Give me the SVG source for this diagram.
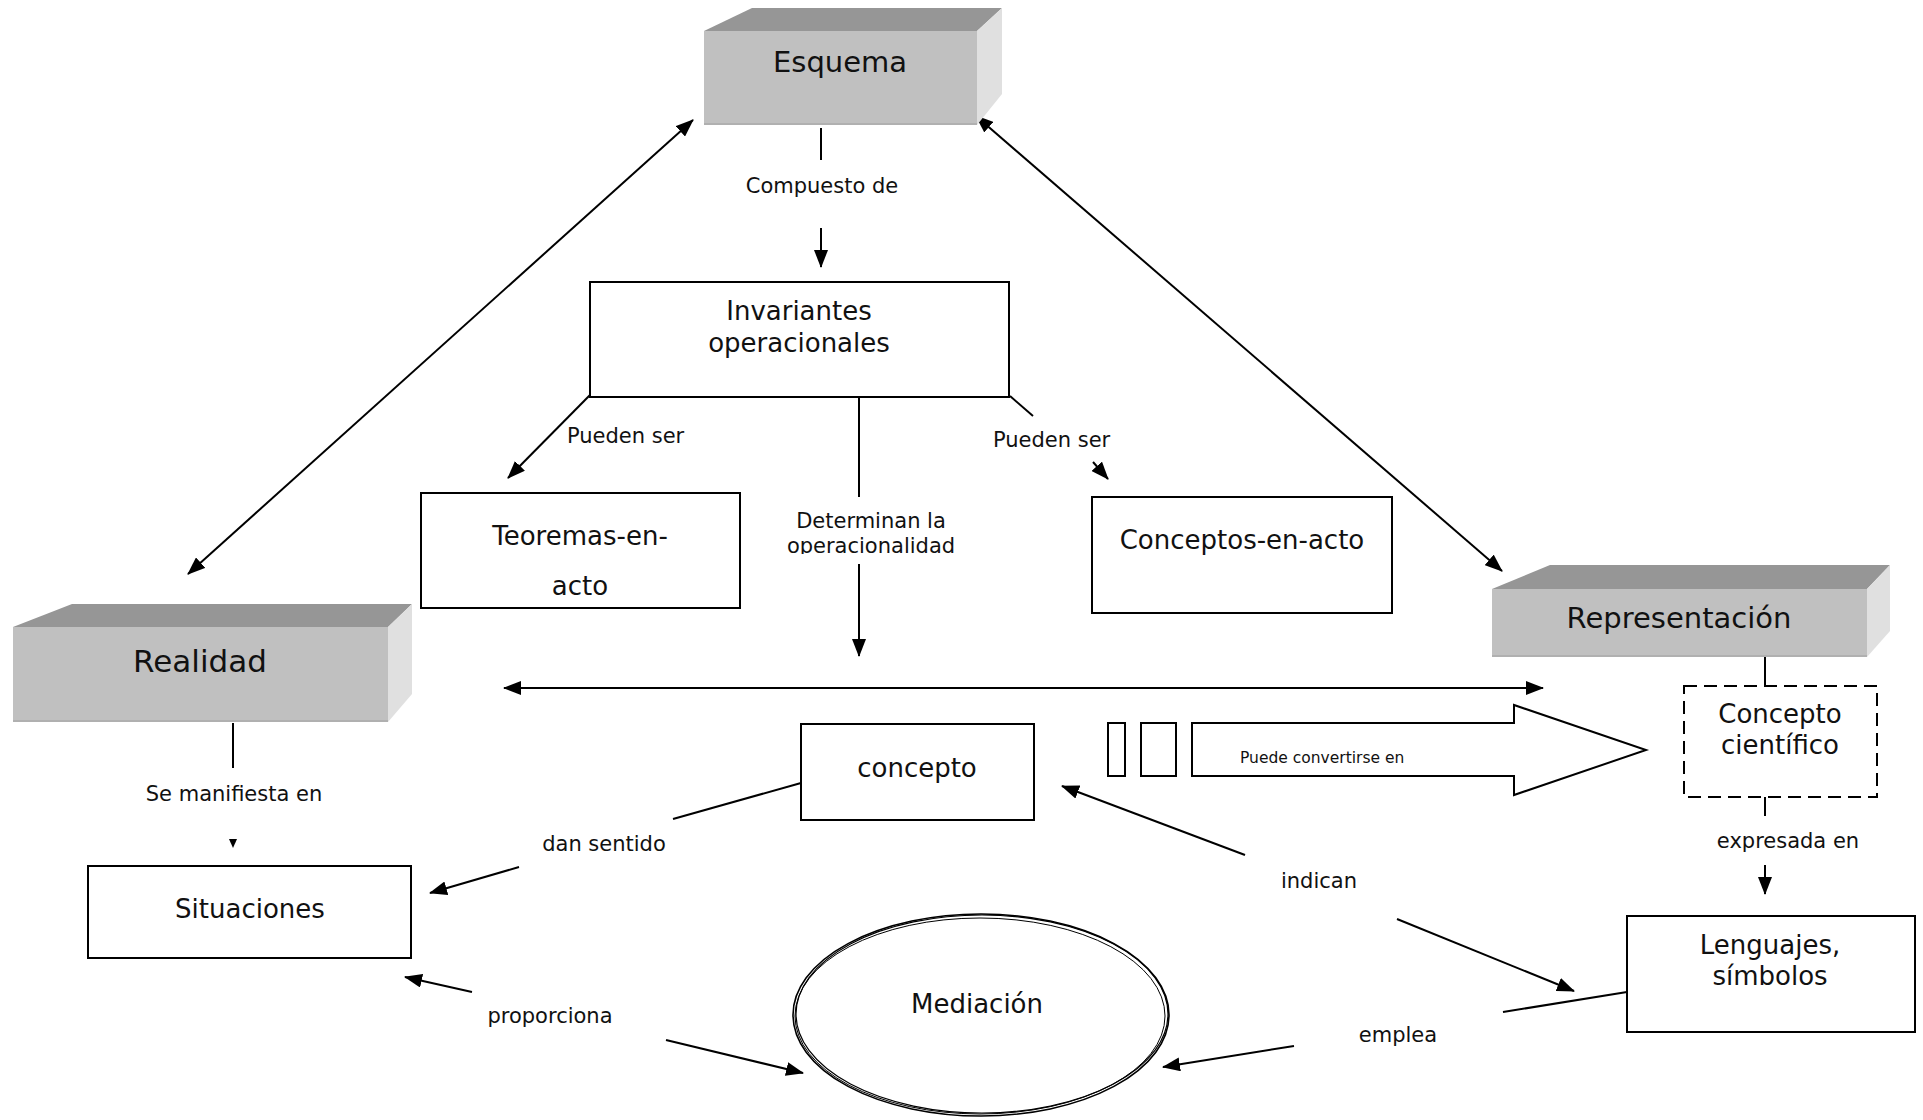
<svg xmlns="http://www.w3.org/2000/svg" width="1923" height="1120" viewBox="0 0 1923 1120">
<defs>
<style>
text{font-family:"DejaVu Sans",Verdana,sans-serif;fill:#111}
.big{font-size:26px}
.lbl{font-size:21px}
.box{fill:#fff;stroke:#000;stroke-width:2}
.front{fill:#c0c0c0}
.top{fill:#969696}
.side{fill:#e0e0e0}
.ln{stroke:#000;stroke-width:2;fill:none}
</style>
<marker id="ah" markerWidth="18" markerHeight="14" refX="17" refY="7" orient="auto-start-reverse" markerUnits="userSpaceOnUse">
<path d="M0,0 L18,7 L0,14 z" fill="#000"/>
</marker>
<clipPath id="detclip"><rect x="760" y="500" width="230" height="54"/></clipPath>
</defs>
<rect width="1923" height="1120" fill="#fff"/>

<g id="connectors">
<line class="ln" x1="821" y1="128" x2="821" y2="160"/>
<line class="ln" x1="821" y1="228" x2="821" y2="267" marker-end="url(#ah)"/>
<line class="ln" x1="693" y1="120" x2="188" y2="574" marker-start="url(#ah)" marker-end="url(#ah)"/>
<line class="ln" x1="976" y1="116" x2="1502" y2="571" marker-start="url(#ah)" marker-end="url(#ah)"/>
<line class="ln" x1="590" y1="395" x2="508" y2="478" marker-end="url(#ah)"/>
<line class="ln" x1="1010" y1="396" x2="1033" y2="416"/>
<line class="ln" x1="1093" y1="462" x2="1108" y2="479" marker-end="url(#ah)"/>
<line class="ln" x1="859" y1="397" x2="859" y2="497"/>
<line class="ln" x1="859" y1="564" x2="859" y2="656" marker-end="url(#ah)"/>
<line class="ln" x1="504" y1="688" x2="1543" y2="688" marker-start="url(#ah)" marker-end="url(#ah)"/>
<line class="ln" x1="233" y1="723" x2="233" y2="768"/>
<polygon points="229,839 237,839 233,848" fill="#000"/>
<line class="ln" x1="801" y1="783" x2="673" y2="819"/>
<line class="ln" x1="519" y1="867" x2="430" y2="893" marker-end="url(#ah)"/>
<line class="ln" x1="1245" y1="855" x2="1062" y2="786" marker-end="url(#ah)"/>
<line class="ln" x1="1397" y1="919" x2="1574" y2="991" marker-end="url(#ah)"/>
<line class="ln" x1="1765" y1="657" x2="1765" y2="686"/>
<line class="ln" x1="1765" y1="797" x2="1765" y2="816"/>
<line class="ln" x1="1765" y1="865" x2="1765" y2="894" marker-end="url(#ah)"/>
<line class="ln" x1="1627" y1="992" x2="1503" y2="1012"/>
<line class="ln" x1="1294" y1="1046" x2="1163" y2="1067" marker-end="url(#ah)"/>
<line class="ln" x1="472" y1="992" x2="405" y2="977" marker-end="url(#ah)"/>
<line class="ln" x1="666" y1="1040" x2="803" y2="1073" marker-end="url(#ah)"/>
<text class="lbl" x="822" y="193" text-anchor="middle">Compuesto de</text>
<text class="lbl" x="567" y="443">Pueden ser</text>
<text class="lbl" x="993" y="447">Pueden ser</text>
<g clip-path="url(#detclip)">
<text class="lbl" x="871" y="528" text-anchor="middle">Determinan la</text>
<text class="lbl" x="871" y="553" text-anchor="middle">operacionalidad</text>
</g>
<text class="lbl" x="234" y="801" text-anchor="middle">Se manifiesta en</text>
<text class="lbl" x="604" y="851" text-anchor="middle">dan sentido</text>
<text class="lbl" x="1319" y="888" text-anchor="middle">indican</text>
<text class="lbl" x="1788" y="848" text-anchor="middle">expresada en</text>
<text class="lbl" x="1398" y="1042" text-anchor="middle">emplea</text>
<text class="lbl" x="550" y="1023" text-anchor="middle">proporciona</text>
</g>

<g id="esquema">
<polygon class="top" points="704,31 752,8 1002,8 977,31"/>
<polygon class="side" points="977,31 1002,8 1002,94 977,125"/>
<rect class="front" x="704" y="31" width="273" height="94"/>
<line x1="704" y1="124" x2="977" y2="124" stroke="#b0b0b0" stroke-width="2"/>
<text x="840" y="72" text-anchor="middle" font-size="29">Esquema</text>
</g>

<g id="realidad">
<polygon class="top" points="13,627 72,604 412,604 388,627"/>
<polygon class="side" points="388,627 412,604 412,694 388,722"/>
<rect class="front" x="13" y="627" width="375" height="95"/>
<line x1="13" y1="721" x2="388" y2="721" stroke="#b0b0b0" stroke-width="2"/>
<text x="200" y="672" text-anchor="middle" font-size="31">Realidad</text>
</g>

<g id="representacion">
<polygon class="top" points="1492,589 1550,565 1890,565 1867,589"/>
<polygon class="side" points="1867,589 1890,565 1890,631 1867,657"/>
<rect class="front" x="1492" y="589" width="375" height="68"/>
<line x1="1492" y1="656" x2="1867" y2="656" stroke="#b0b0b0" stroke-width="2"/>
<text x="1679" y="628" text-anchor="middle" font-size="29">Representación</text>
</g>

<g id="invariantes">
<rect class="box" x="590" y="282" width="419" height="115"/>
<text class="big" x="799" y="320" text-anchor="middle">Invariantes</text>
<text class="big" x="799" y="352" text-anchor="middle">operacionales</text>
</g>

<g id="teoremas">
<rect class="box" x="421" y="493" width="319" height="115"/>
<text class="big" x="580" y="545" text-anchor="middle">Teoremas-en-</text>
<text class="big" x="580" y="595" text-anchor="middle">acto</text>
</g>

<g id="conceptos-en-acto">
<rect class="box" x="1092" y="497" width="300" height="116"/>
<text class="big" x="1242" y="549" text-anchor="middle">Conceptos-en-acto</text>
</g>

<g id="situaciones">
<rect class="box" x="88" y="866" width="323" height="92"/>
<text class="big" x="250" y="918" text-anchor="middle">Situaciones</text>
</g>

<g id="concepto">
<rect class="box" x="801" y="724" width="233" height="96"/>
<text class="big" x="917" y="777" text-anchor="middle">concepto</text>
</g>

<g id="puede-convertirse">
<rect class="box" x="1108" y="723" width="17" height="53"/>
<rect class="box" x="1141" y="723" width="35" height="53"/>
<polygon class="box" points="1192,723 1514,723 1514,705 1646,750 1514,795 1514,776 1192,776"/>
<text x="1240" y="763" font-size="15.5">Puede convertirse en</text>
</g>

<g id="concepto-cientifico">
<rect x="1684" y="686" width="193" height="111" fill="#fff" stroke="#000" stroke-width="2" stroke-dasharray="13,7"/>
<text class="big" x="1780" y="723" text-anchor="middle">Concepto</text>
<text class="big" x="1780" y="754" text-anchor="middle">científico</text>
</g>

<g id="lenguajes">
<rect class="box" x="1627" y="916" width="288" height="116"/>
<text class="big" x="1770" y="954" text-anchor="middle">Lenguajes,</text>
<text class="big" x="1770" y="985" text-anchor="middle">símbolos</text>
</g>

<g id="mediacion">
<ellipse cx="981" cy="1015" rx="188" ry="101" fill="#fff" stroke="#000" stroke-width="1.6"/>
<ellipse cx="982" cy="1014" rx="186" ry="99" fill="none" stroke="#000" stroke-width="1.2"/>
<ellipse cx="980" cy="1016" rx="185" ry="98" fill="none" stroke="#000" stroke-width="1"/>
<text class="big" x="977" y="1013" text-anchor="middle">Mediación</text>
</g>
</svg>
